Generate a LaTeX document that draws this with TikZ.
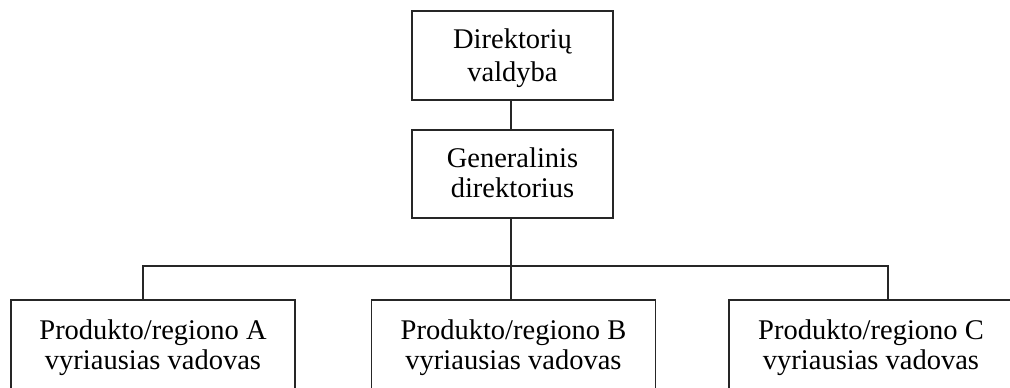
\documentclass[tikz,border=0pt]{standalone}
\usepackage{fontspec}
\setmainfont{Liberation Serif}
\begin{document}
\begin{tikzpicture}[x=1pt,y=-1pt,
  orgbox/.style={draw=black!85, line width=1.8pt, align=center, inner sep=0pt,
    font=\fontsize{28.5}{30}\selectfont},
  link/.style={draw=black!85, line width=1.9pt}]
  \useasboundingbox (0,0) rectangle (1010,388);
  \clip (0,0) rectangle (1010,388);

  % top levels
  \node[orgbox, minimum width=201pt, minimum height=89pt, text depth=0pt,
        font=\fontsize{28.5}{33}\selectfont] (board) at (512.5,55.5)
        {Direktorių\\valdyba};
  \node[orgbox, minimum width=201pt, minimum height=88pt, text depth=3.5pt] (ceo) at (512.5,174)
        {Generalinis\\direktorius};

  % product / region heads
  \node[orgbox, anchor=north, minimum width=284pt, inner ysep=19.8pt, text depth=0.8pt] (headA) at (153,299)
        {Produkto/regiono A\\vyriausias vadovas};
  \node[orgbox, anchor=north, minimum width=284pt, inner ysep=19.8pt, text depth=0.8pt] (headB) at (513.5,299)
        {Produkto/regiono B\\vyriausias vadovas};
  \node[orgbox, anchor=north, minimum width=284pt, inner ysep=19.8pt, text depth=0.8pt] (headC) at (871,299)
        {Produkto/regiono C\\vyriausias vadovas};

  % branch points on the distribution bar
  \coordinate (jA) at (143,266);
  \coordinate (jB) at (511,266);
  \coordinate (jC) at (888,266);

  \draw[link] (board.south -| jB) -- (ceo.north -| jB);
  \draw[link] (ceo.south -| jB) -- (jB |- headB.north);
  \draw[link, line cap=rect] (jA) -- (jC);
  \draw[link] (jA) -- (jA |- headA.north);
  \draw[link] (jC) -- (jC |- headC.north);
\end{tikzpicture}
\end{document}
